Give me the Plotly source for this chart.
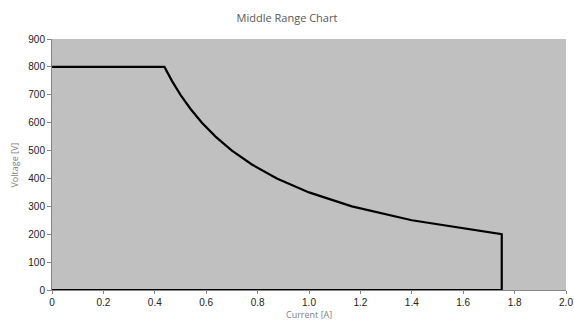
import plotly.graph_objects as go

current = [0, 0.4375, 0.4667, 0.5, 0.5385, 0.5833, 0.6364, 0.7, 0.7778, 0.875, 1.0, 1.1667, 1.4, 1.75, 1.75, 0]
voltage = [800, 800, 750, 700, 650, 600, 550, 500, 450, 400, 350, 300, 250, 200, 0, 0]

x_ticks = [0, 0.2, 0.4, 0.6, 0.8, 1.0, 1.2, 1.4, 1.6, 1.8, 2.0]
x_labels = ["0", "0.2", "0.4", "0.6", "0.8", "1.0", "1.2", "1.4", "1.6", "1.8", "2.0"]
y_ticks = [0, 100, 200, 300, 400, 500, 600, 700, 800, 900]

fig = go.Figure()
fig.add_trace(go.Scatter(x=current, y=voltage, mode="lines",
                         line=dict(color="black", width=2.2),
                         cliponaxis=False, showlegend=False))

fig.update_layout(
    width=574, height=321,
    margin=dict(l=52, r=8, t=39, b=31, autoexpand=False),
    paper_bgcolor="white", plot_bgcolor="#c0c0c0",
    title=dict(text="Middle Range Chart", x=0.5, xanchor="center", y=0.945, yanchor="middle",
               font=dict(family="Open Sans", size=11, color="#595959")),
    font=dict(family="Liberation Sans", size=10, color="#222222"),
    annotations=[
        dict(text="Current [A]", xref="paper", yref="paper", x=0.5, y=-0.098,
             xanchor="center", yanchor="middle", showarrow=False,
             font=dict(family="Open Sans", size=9, color="#7f7f7f")),
        dict(text="Voltage [V]", xref="paper", yref="paper", x=-0.072, y=0.5,
             xanchor="center", yanchor="middle", showarrow=False, textangle=-90,
             font=dict(family="Open Sans", size=9, color="#7f7f7f")),
    ],
)
fig.update_xaxes(range=[0, 2.0], tickvals=x_ticks, ticktext=x_labels, automargin=False,
                 showgrid=False, zeroline=False, showline=True, linecolor="#868686", linewidth=1,
                 ticks="outside", ticklen=3, tickcolor="#868686")
fig.update_yaxes(range=[0, 900], tickvals=y_ticks, automargin=False,
                 showgrid=False, zeroline=False, showline=True, linecolor="#868686", linewidth=1,
                 ticks="outside", ticklen=4, tickcolor="#868686")

fig.write_html("out.html", config={"displayModeBar": False},
               post_script="document.body.style.margin='0';document.body.style.overflow='hidden';")
